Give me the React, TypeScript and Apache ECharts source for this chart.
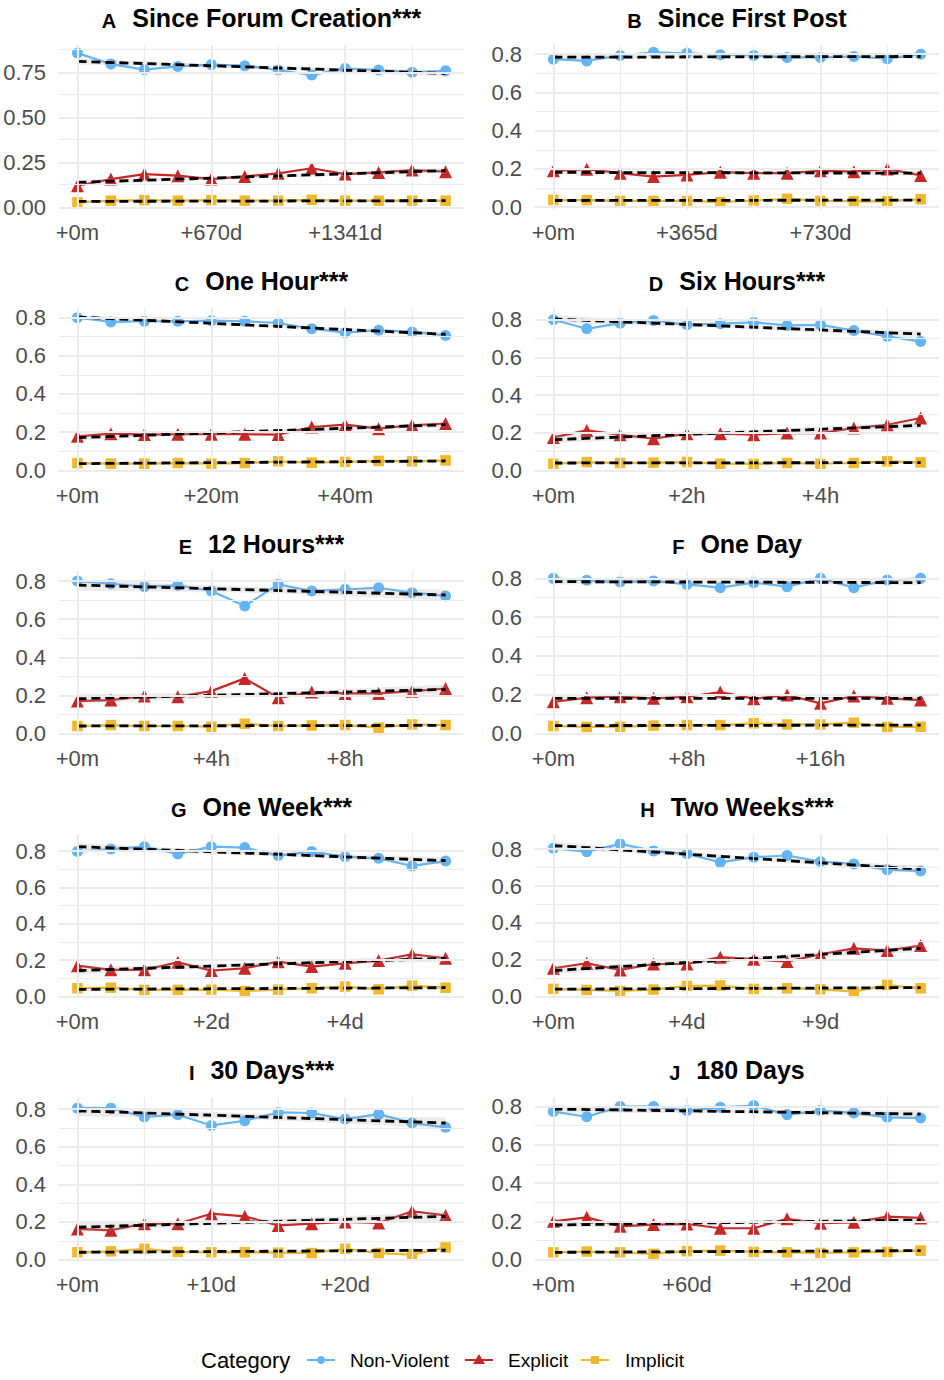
import React, { useEffect, useRef } from "react";
import * as echarts from "echarts";

// ---------- data ----------
const categories = ["Non-Violent", "Explicit", "Implicit"];
const categoryColors = ["#64B5F6", "#C62828", "#F0B82C"];
const categorySymbols = ["circle", "triangle", "rect"];
const categorySymbolSizes = [11, 13, 10.5];

const panelLetters = ["A", "B", "C", "D", "E", "F", "G", "H", "I", "J"];
const panelTitles = [
  "Since Forum Creation***",
  "Since First Post",
  "One Hour***",
  "Six Hours***",
  "12 Hours***",
  "One Day",
  "One Week***",
  "Two Weeks***",
  "30 Days***",
  "180 Days",
];

const timeBins = [0, 1, 2, 3, 4, 5, 6, 7, 8, 9, 10, 11];
const xTickPositions = [0, 4, 8];
const xMinorPositions = [2, 6, 10];
const xTickLabels = [
  ["+0m", "+670d", "+1341d"],
  ["+0m", "+365d", "+730d"],
  ["+0m", "+20m", "+40m"],
  ["+0m", "+2h", "+4h"],
  ["+0m", "+4h", "+8h"],
  ["+0m", "+8h", "+16h"],
  ["+0m", "+2d", "+4d"],
  ["+0m", "+4d", "+9d"],
  ["+0m", "+10d", "+20d"],
  ["+0m", "+60d", "+120d"],
];

const yTicksQuarter = [0, 0.25, 0.5, 0.75];
const yMinorQuarter = [0.125, 0.375, 0.625, 0.875];
const yTicksFifth = [0, 0.2, 0.4, 0.6, 0.8];
const yMinorFifth = [0.1, 0.3, 0.5, 0.7];

const yRanges = [
  [-0.012, 0.902],
  [-0.012, 0.848],
  [-0.012, 0.85],
  [-0.012, 0.862],
  [-0.012, 0.852],
  [-0.012, 0.837],
  [-0.012, 0.892],
  [-0.012, 0.881],
  [-0.012, 0.862],
  [-0.012, 0.848],
];

// proportion per time bin, per panel (A..J)
const nonViolent = [
  [0.857, 0.796, 0.765, 0.783, 0.793, 0.787, 0.763, 0.735, 0.772, 0.763, 0.75, 0.759],
  [0.774, 0.765, 0.793, 0.81, 0.805, 0.797, 0.793, 0.783, 0.783, 0.788, 0.776, 0.8],
  [0.8, 0.777, 0.781, 0.781, 0.784, 0.781, 0.772, 0.742, 0.721, 0.734, 0.725, 0.707],
  [0.8, 0.752, 0.782, 0.796, 0.773, 0.779, 0.786, 0.77, 0.773, 0.743, 0.712, 0.685],
  [0.8, 0.786, 0.771, 0.778, 0.748, 0.669, 0.783, 0.748, 0.757, 0.765, 0.739, 0.722],
  [0.8, 0.79, 0.781, 0.787, 0.769, 0.752, 0.778, 0.757, 0.8, 0.752, 0.792, 0.8],
  [0.797, 0.811, 0.824, 0.784, 0.824, 0.819, 0.775, 0.797, 0.769, 0.76, 0.718, 0.745],
  [0.805, 0.787, 0.829, 0.791, 0.775, 0.729, 0.757, 0.766, 0.733, 0.72, 0.688, 0.682],
  [0.805, 0.805, 0.758, 0.77, 0.713, 0.738, 0.782, 0.779, 0.747, 0.773, 0.726, 0.703],
  [0.774, 0.747, 0.8, 0.801, 0.779, 0.796, 0.805, 0.758, 0.779, 0.767, 0.744, 0.74],
];
const explicit = [
  [0.12, 0.157, 0.185, 0.176, 0.157, 0.172, 0.189, 0.217, 0.185, 0.194, 0.207, 0.198],
  [0.19, 0.199, 0.178, 0.16, 0.169, 0.183, 0.178, 0.178, 0.19, 0.186, 0.2, 0.166],
  [0.178, 0.192, 0.187, 0.189, 0.189, 0.189, 0.187, 0.227, 0.239, 0.218, 0.236, 0.245],
  [0.175, 0.212, 0.189, 0.168, 0.195, 0.195, 0.189, 0.198, 0.198, 0.225, 0.242, 0.278],
  [0.17, 0.175, 0.196, 0.193, 0.222, 0.289, 0.187, 0.217, 0.21, 0.21, 0.222, 0.236],
  [0.163, 0.184, 0.189, 0.181, 0.189, 0.213, 0.179, 0.198, 0.155, 0.193, 0.181, 0.172],
  [0.17, 0.147, 0.147, 0.189, 0.143, 0.156, 0.192, 0.165, 0.183, 0.198, 0.233, 0.211],
  [0.154, 0.181, 0.145, 0.177, 0.177, 0.214, 0.203, 0.19, 0.23, 0.262, 0.25, 0.277],
  [0.163, 0.156, 0.191, 0.191, 0.244, 0.23, 0.182, 0.191, 0.2, 0.195, 0.257, 0.235],
  [0.2, 0.221, 0.174, 0.183, 0.186, 0.164, 0.164, 0.213, 0.19, 0.195, 0.225, 0.218],
];
const implicit = [
  [0.028, 0.037, 0.04, 0.037, 0.04, 0.037, 0.037, 0.042, 0.037, 0.037, 0.037, 0.037],
  [0.038, 0.037, 0.033, 0.033, 0.033, 0.026, 0.035, 0.044, 0.033, 0.031, 0.031, 0.042],
  [0.038, 0.035, 0.035, 0.038, 0.035, 0.038, 0.047, 0.04, 0.044, 0.049, 0.047, 0.052],
  [0.035, 0.044, 0.039, 0.041, 0.044, 0.035, 0.034, 0.039, 0.035, 0.039, 0.048, 0.042],
  [0.039, 0.044, 0.039, 0.039, 0.035, 0.051, 0.039, 0.042, 0.044, 0.03, 0.047, 0.044],
  [0.038, 0.033, 0.034, 0.04, 0.043, 0.043, 0.052, 0.046, 0.046, 0.055, 0.033, 0.034],
  [0.046, 0.049, 0.037, 0.037, 0.038, 0.031, 0.038, 0.046, 0.055, 0.04, 0.06, 0.049],
  [0.042, 0.036, 0.031, 0.038, 0.058, 0.06, 0.042, 0.045, 0.04, 0.027, 0.063, 0.045],
  [0.039, 0.044, 0.058, 0.041, 0.039, 0.039, 0.037, 0.035, 0.058, 0.035, 0.027, 0.065],
  [0.038, 0.042, 0.038, 0.03, 0.044, 0.047, 0.04, 0.038, 0.035, 0.038, 0.04, 0.047],
];

// linear trend [start, end] per panel
const trendNonViolent = [
  [0.811, 0.744], [0.784, 0.788], [0.803, 0.713], [0.804, 0.724], [0.779, 0.727],
  [0.783, 0.778], [0.824, 0.747], [0.82, 0.691], [0.791, 0.726], [0.787, 0.761],
];
const trendExplicit = [
  [0.139, 0.204], [0.182, 0.178], [0.171, 0.239], [0.163, 0.239], [0.182, 0.231],
  [0.181, 0.181], [0.143, 0.211], [0.141, 0.262], [0.172, 0.23], [0.181, 0.207],
];
const trendImplicit = [
  [0.033, 0.037], [0.035, 0.037], [0.035, 0.049], [0.039, 0.041], [0.039, 0.042],
  [0.04, 0.043], [0.04, 0.049], [0.04, 0.049], [0.039, 0.05], [0.038, 0.047],
];
// confidence band half-width at the ends [non-violent, explicit, implicit]
const ribbonHalfWidth = [
  [0.018, 0.015, 0.005], [0.012, 0.012, 0.006], [0.012, 0.014, 0.006], [0.02, 0.02, 0.006],
  [0.03, 0.025, 0.006], [0.015, 0.012, 0.006], [0.02, 0.02, 0.008], [0.02, 0.02, 0.01],
  [0.03, 0.025, 0.01], [0.02, 0.015, 0.006],
];

// ---------- layout ----------
const FONT = "'Liberation Sans', Arial, Helvetica, sans-serif";
const GRID_COLOR = "#EBEBEB";
const colLeft = [59, 535];
const colWidth = [405, 404];
const rowTop0 = 45;
const rowPitch = 263.1;
const plotHeight = 164.5;

function buildOption() {
  const grid: any[] = [];
  const xAxis: any[] = [];
  const yAxis: any[] = [];
  const series: any[] = [];
  const graphic: any[] = [];
  const valuesByCat = [nonViolent, explicit, implicit];
  const trendsByCat = [trendNonViolent, trendExplicit, trendImplicit];

  for (let p = 0; p < 10; p++) {
    const col = p % 2;
    const row = Math.floor(p / 2);
    const left = colLeft[col];
    const width = colWidth[col];
    const top = rowTop0 + row * rowPitch;
    const quarter = p === 0;
    const yMajor = quarter ? yTicksQuarter : yTicksFifth;
    const yMinor = quarter ? yMinorQuarter : yMinorFifth;

    grid.push({ left, top, width, height: plotHeight, containLabel: false, outerBoundsMode: "none" });
    xAxis.push({
      type: "value",
      gridIndex: p,
      min: -0.55,
      max: 11.55,
      axisLine: { show: false },
      axisTick: { show: false },
      splitLine: { show: false },
      axisLabel: {
        customValues: xTickPositions,
        formatter: (v: number) => {
          const k = xTickPositions.indexOf(Math.round(v));
          return k >= 0 ? xTickLabels[p][k] : "";
        },
        fontSize: 22,
        color: "#4D4D4D",
        fontFamily: FONT,
        margin: 12,
      },
    });
    yAxis.push({
      type: "value",
      gridIndex: p,
      min: yRanges[p][0],
      max: yRanges[p][1],
      axisLine: { show: false },
      axisTick: { show: false },
      splitLine: { show: false },
      axisLabel: {
        customValues: yMajor,
        formatter: (v: number) => v.toFixed(quarter ? 2 : 1),
        fontSize: 22,
        color: "#4D4D4D",
        fontFamily: FONT,
        margin: 13,
      },
    });

    // grid lines
    const ml: any[] = [];
    xTickPositions.forEach((v) => ml.push({ xAxis: v, lineStyle: { width: 2, color: GRID_COLOR, type: "solid" } }));
    xMinorPositions.forEach((v) => ml.push({ xAxis: v, lineStyle: { width: 1.2, color: GRID_COLOR, type: "solid" } }));
    yMajor.forEach((v) => ml.push({ yAxis: v, lineStyle: { width: 2, color: GRID_COLOR, type: "solid" } }));
    yMinor.forEach((v) => ml.push({ yAxis: v, lineStyle: { width: 1.2, color: GRID_COLOR, type: "solid" } }));
    series.push({
      type: "line",
      xAxisIndex: p,
      yAxisIndex: p,
      data: [],
      z: 0,
      silent: true,
      markLine: { silent: true, symbol: ["none", "none"], label: { show: false }, animation: false, data: ml },
    });

    // category lines + points
    for (let c = 0; c < 3; c++) {
      series.push({
        type: "line",
        name: categories[c],
        xAxisIndex: p,
        yAxisIndex: p,
        data: valuesByCat[c][p].map((v, i) => [timeBins[i], v]),
        symbol: categorySymbols[c],
        symbolSize: categorySymbolSizes[c],
        showSymbol: true,
        itemStyle: { color: categoryColors[c], opacity: 1 },
        lineStyle: { color: categoryColors[c], width: 2.2 },
        z: 2,
        silent: true,
      });
    }

    // ribbons + dashed trends
    for (let c = 0; c < 3; c++) {
      const tr = trendsByCat[c][p];
      series.push({
        type: "custom",
        xAxisIndex: p,
        yAxisIndex: p,
        z: 3,
        silent: true,
        data: [[tr[0], tr[1], ribbonHalfWidth[p][c]]],
        renderItem: (params: any, api: any) => {
          const a = api.value(0);
          const b = api.value(1);
          const h = api.value(2);
          const x0 = timeBins[0];
          const x1 = timeBins[timeBins.length - 1];
          const mid = (x0 + x1) / 2;
          const endVar = 1 / 12 + (x1 - mid) * (x1 - mid) / 143;
          const up: number[][] = [];
          const lo: number[][] = [];
          const n = 30;
          for (let i = 0; i <= n; i++) {
            const t = x0 + ((x1 - x0) * i) / n;
            const y = a + ((b - a) * (t - x0)) / (x1 - x0);
            const f = Math.sqrt((1 / 12 + (t - mid) * (t - mid) / 143) / endVar);
            up.push(api.coord([t, y + h * f]));
            lo.push(api.coord([t, y - h * f]));
          }
          return {
            type: "polygon",
            shape: { points: up.concat(lo.reverse()) },
            style: { fill: "rgba(153,153,153,0.2)", stroke: "none" },
          };
        },
      });
      series.push({
        type: "line",
        xAxisIndex: p,
        yAxisIndex: p,
        data: [
          [timeBins[0], tr[0]],
          [timeBins[timeBins.length - 1], tr[1]],
        ],
        symbol: "none",
        lineStyle: { color: "#000000", width: 2.8, type: [9, 5] },
        z: 4,
        silent: true,
      });
    }

    // title
    graphic.push({
      type: "text",
      x: left + width / 2,
      y: 16.5 + row * rowPitch,
      silent: true,
      style: {
        text: `{t|${panelLetters[p]}}{m|${panelTitles[p]}}`,
        align: "center",
        verticalAlign: "middle",
        textAlign: "center",
        textVerticalAlign: "middle",
        fill: "#000",
        rich: {
          t: { fontSize: 20, fontWeight: "bold", fontFamily: FONT, fill: "#000", padding: [0, 16, 0, 0], verticalAlign: "bottom", lineHeight: 28 },
          m: { fontSize: 25, fontWeight: "bold", fontFamily: FONT, fill: "#000", verticalAlign: "bottom", lineHeight: 28 },
        },
      },
    });
  }

  // legend
  const ly = 1360;
  graphic.push({
    type: "text",
    x: 201,
    y: ly,
    silent: true,
    style: { text: "Category", fontSize: 22, fontFamily: FONT, fill: "#000", verticalAlign: "middle", textVerticalAlign: "middle" },
  });
  const legendItems = [
    { x0: 307, x1: 335, tx: 350 },
    { x0: 465, x1: 493, tx: 508 },
    { x0: 581, x1: 609, tx: 625 },
  ];
  legendItems.forEach((it, c) => {
    const cx = (it.x0 + it.x1) / 2;
    const color = categoryColors[c];
    graphic.push({ type: "line", silent: true, shape: { x1: it.x0, y1: ly, x2: it.x1, y2: ly }, style: { stroke: color, lineWidth: 2 } });
    if (c === 0) {
      graphic.push({ type: "circle", silent: true, shape: { cx, cy: ly, r: 4 }, style: { fill: color } });
    } else if (c === 1) {
      graphic.push({ type: "polygon", silent: true, shape: { points: [[cx, ly - 6], [cx + 6, ly + 4], [cx - 6, ly + 4]] }, style: { fill: color } });
    } else {
      graphic.push({ type: "rect", silent: true, shape: { x: cx - 4, y: ly - 4, width: 8, height: 8 }, style: { fill: color } });
    }
    graphic.push({
      type: "text",
      x: it.tx,
      y: ly,
      silent: true,
      style: { text: categories[c], fontSize: 19, fontFamily: FONT, fill: "#000", verticalAlign: "middle", textVerticalAlign: "middle" },
    });
  });

  return {
    animation: false,
    backgroundColor: "#ffffff",
    textStyle: { fontFamily: FONT },
    grid,
    xAxis,
    yAxis,
    series,
    graphic,
  };
}

export default function App() {
  const ref = useRef<HTMLDivElement>(null);
  useEffect(() => {
    document.body.style.margin = "0";
    if (!ref.current) return;
    const chart = echarts.init(ref.current, undefined, { renderer: "svg" });
    chart.setOption(buildOption() as any);
    return () => {
      chart.dispose();
    };
  }, []);
  return <div ref={ref} style={{ width: 944, height: 1380 }} />;
}
